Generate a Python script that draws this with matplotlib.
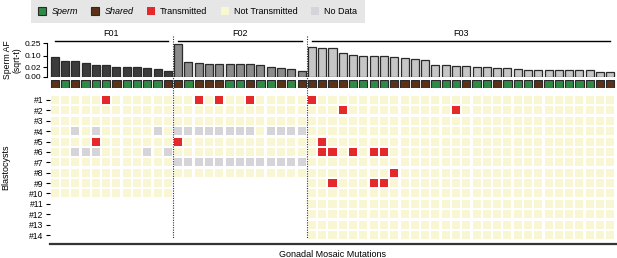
import numpy as np
import matplotlib
matplotlib.use("Agg")
import matplotlib.pyplot as plt
from matplotlib.patches import Rectangle, Patch
from matplotlib.lines import Line2D
from matplotlib.ticker import NullLocator, FixedLocator, FixedFormatter
import matplotlib.transforms as mtransforms

plt.rcParams['font.family'] = ['Liberation Sans', 'DejaVu Sans']

# ---------------- data ----------------
families = ["F01", "F02", "F03"]

af_F01 = [0.085, 0.054, 0.052, 0.039, 0.031, 0.028, 0.020, 0.019, 0.019, 0.015, 0.014, 0.006]
af_F02 = [0.241, 0.047, 0.043, 0.035, 0.035, 0.035, 0.034, 0.034, 0.031, 0.019, 0.018, 0.014, 0.0075]
af_F03 = [0.204, 0.186, 0.182, 0.120, 0.107, 0.097, 0.097, 0.094, 0.085, 0.074, 0.066, 0.059,
          0.031, 0.030, 0.027, 0.026, 0.019, 0.019, 0.018, 0.018, 0.012, 0.011, 0.011, 0.011,
          0.011, 0.011, 0.011, 0.010, 0.005, 0.004]

# S = Sperm only, B = Shared
type_F01 = "BSBSSSBSSSSB"
type_F02 = "BSBBBSSBSSBSB"
type_F03 = "BBBBSSSSBBBBSSSBSSBSSSBSSSSSBB"

# T = Transmitted, N = Not transmitted, D = No data ; one string per blastocyst
status_F01 = ["NNNNNTNNNNNN",
              "NNNNNNNNNNNN",
              "NNNNNNNNNNNN",
              "NNDNDNNNNNDN",
              "NNNNTNNNNNNN",
              "NNDDDNNNNDND",
              "NNNNNNNNNNNN",
              "NNNNNNNNNNNN",
              "NNNNNNNNNNNN",
              "NNNNNNNNNNNN"]
status_F02 = ["NNTNTNNTNNNNN",
              "NNNNNNNNNNNNN",
              "NNNNNNNNNNNNN",
              "DDDDDDDDNDDDD",
              "TNNNNNNNNNNNN",
              "NNNNNNNNNNNNN",
              "DDDDDDDDDDDDD",
              "NNNNNNNNNNNNN"]
status_F03 = ["TNNNNNNNNNNNNNNNNNNNNNNNNNNNNN",
              "NNNTNNNNNNNNNNTNNNNNNNNNNNNNNN",
              "NNNNNNNNNNNNNNNNNNNNNNNNNNNNNN",
              "NNNNNNNNNNNNNNNNNNNNNNNNNNNNNN",
              "NTNNNNNNNNNNNNNNNNNNNNNNNNNNNN",
              "NTTNTNTTNNNNNNNNNNNNNNNNNNNNNN",
              "NNNNNNNNNNNNNNNNNNNNNNNNNNNNNN",
              "NNNNNNNNTNNNNNNNNNNNNNNNNNNNNN",
              "NNTNNNTTNNNNNNNNNNNNNNNNNNNNNN",
              "NNNNNNNNNNNNNNNNNNNNNNNNNNNNNN",
              "NNNNNNNNNNNNNNNNNNNNNNNNNNNNNN",
              "NNNNNNNNNNNNNNNNNNNNNNNNNNNNNN",
              "NNNNNNNNNNNNNNNNNNNNNNNNNNNNNN",
              "NNNNNNNNNNNNNNNNNNNNNNNNNNNNNN"]

row_labels = [f"#{i}" for i in range(1, 15)]
y_ticks = [0.0, 0.02, 0.10, 0.25]
y_ticklabels = ["0.00", "0.02", "0.10", "0.25"]

# ---------------- styles ----------------
bar_colors = {"F01": "#3c3c3c", "F02": "#8b8b8b", "F03": "#c6c6c6"}
type_colors = {"S": "#2f8a45", "B": "#5b3218"}
status_colors = {"T": "#e5282a", "N": "#f8f6d3", "D": "#d5d5d9"}

af_all = [af_F01, af_F02, af_F03]
type_all = [type_F01, type_F02, type_F03]
status_all = [status_F01, status_F02, status_F03]

W, H = 617, 258
fig = plt.figure(figsize=(W / 100, H / 100), dpi=100)


def rect(l, t, r, b):
    return [l / W, 1 - b / H, (r - l) / W, (b - t) / H]


n_total = sum(len(a) for a in af_all)
xl, xr = 49.5, 615.5

ax_bar = fig.add_axes(rect(xl, 43.3, xr, 76.5))
ax_typ = fig.add_axes(rect(xl, 79.8, xr, 88.4))
ax_hm = fig.add_axes(rect(xl, 94.8, xr, 240.2))

for ax in (ax_bar, ax_typ, ax_hm):
    ax.set_xlim(-0.5, n_total - 0.5)

# bars
ax_bar.set_yscale('function', functions=(lambda v: np.sqrt(np.clip(v, 0, None)), lambda v: v ** 2))
offset = 0
starts = []
for fam, afs in zip(families, af_all):
    xs = np.arange(offset, offset + len(afs))
    ax_bar.bar(xs, afs, width=0.78, color=bar_colors[fam], edgecolor="#2a2a2a", linewidth=0.9)
    starts.append(offset)
    offset += len(afs)
ax_bar.set_ylim(0, 0.25)
ax_bar.yaxis.set_major_locator(FixedLocator(y_ticks))
ax_bar.yaxis.set_major_formatter(FixedFormatter(y_ticklabels))
ax_bar.yaxis.set_minor_locator(NullLocator())
for lbl in ax_bar.get_yticklabels():
    lbl.set_fontsize(6)
ax_bar.tick_params(axis="y", labelsize=6, length=3, width=0.8, pad=1)
ax_bar.set_xticks([])
for s in ("top", "right", "bottom"):
    ax_bar.spines[s].set_visible(False)
ax_bar.spines["left"].set_position(("outward", 2))
ax_bar.spines["left"].set_linewidth(0.8)
ax_bar.set_ylabel("Sperm AF\n(sqrt-t)", fontsize=6.2, linespacing=1.15)
ax_bar.yaxis.set_label_coords(-0.049, 0.5)
ax_bar.patch.set_visible(False)

# family labels with lines
bt_bar = mtransforms.blended_transform_factory(ax_bar.transData, ax_bar.transAxes)
for fam, st, afs in zip(families, starts, af_all):
    x0, x1 = st, st + len(afs) - 1
    ax_bar.plot([x0, x1], [1.07, 1.07], transform=bt_bar, color="black", lw=1.0, clip_on=False)
    ax_bar.text((x0 + x1) / 2, 1.3, fam, transform=bt_bar, ha="center", va="center", fontsize=6.5)

# type annotation row
offset = 0
for types in type_all:
    xs = np.arange(offset, offset + len(types))
    ax_typ.bar(xs, [1] * len(types), width=0.8, bottom=0,
               color=[type_colors[t] for t in types], edgecolor="#2a2a2a", linewidth=0.8)
    offset += len(types)
ax_typ.set_ylim(0, 1)
ax_typ.axis("off")

# heatmap
offset = 0
for fam, statuses, afs in zip(families, status_all, af_all):
    for r, row in enumerate(statuses):
        for c, s in enumerate(row):
            ax_hm.add_patch(Rectangle((offset + c - 0.39, r - 0.385), 0.78, 0.77,
                                      facecolor=status_colors[s], edgecolor="none"))
    offset += len(afs)
ax_hm.set_ylim(len(row_labels) - 0.5, -0.5)
ax_hm.set_yticks(range(len(row_labels)))
ax_hm.set_yticklabels(row_labels, fontsize=6.2)
ax_hm.tick_params(axis="y", length=3, width=0.8, pad=1.5)
ax_hm.set_xticks([])
for s in ("top", "right", "left"):
    ax_hm.spines[s].set_visible(False)
ax_hm.spines["bottom"].set_position(("outward", 3))
ax_hm.spines["bottom"].set_linewidth(1.6)
ax_hm.spines["bottom"].set_color("#333333")
ax_hm.set_xlabel("Gonadal Mosaic Mutations", fontsize=6.5, labelpad=4)
ax_hm.set_ylabel("Blastocysts", fontsize=6.5)
ax_hm.yaxis.set_label_coords(-0.070, 0.5)

# dotted separators between families
bt = mtransforms.blended_transform_factory(ax_hm.transData, fig.transFigure)
cum = np.cumsum([len(a) for a in af_all])[:-1]
for b in cum:
    fig.add_artist(Line2D([b - 0.5, b - 0.5], [1 - 36 / H, 1 - 238 / H], transform=bt,
                          color="#333333", lw=0.8, linestyle=(0, (1, 1.2))))

# legend
handles = [Patch(facecolor=type_colors["S"], edgecolor="#2a2a2a", linewidth=0.8, label="Sperm"),
           Patch(facecolor=type_colors["B"], edgecolor="#2a2a2a", linewidth=0.8, label="Shared"),
           Patch(facecolor=status_colors["T"], edgecolor="none", label="Transmitted"),
           Patch(facecolor=status_colors["N"], edgecolor="none", label="Not Transmitted"),
           Patch(facecolor=status_colors["D"], edgecolor="none", label="No Data")]
leg = fig.legend(handles=handles, loc="upper left", bbox_to_anchor=(31 / W, 1.0), ncol=5,
                 fontsize=6.5, frameon=True, fancybox=False, facecolor="#e6e6e6", edgecolor="none",
                 handlelength=0.85, handleheight=0.85, handletextpad=0.6, columnspacing=1.5,
                 borderpad=0.8, borderaxespad=0, framealpha=1)
for t in leg.get_texts()[:2]:
    t.set_fontstyle("italic")

fig.savefig("out.png", dpi=100)
